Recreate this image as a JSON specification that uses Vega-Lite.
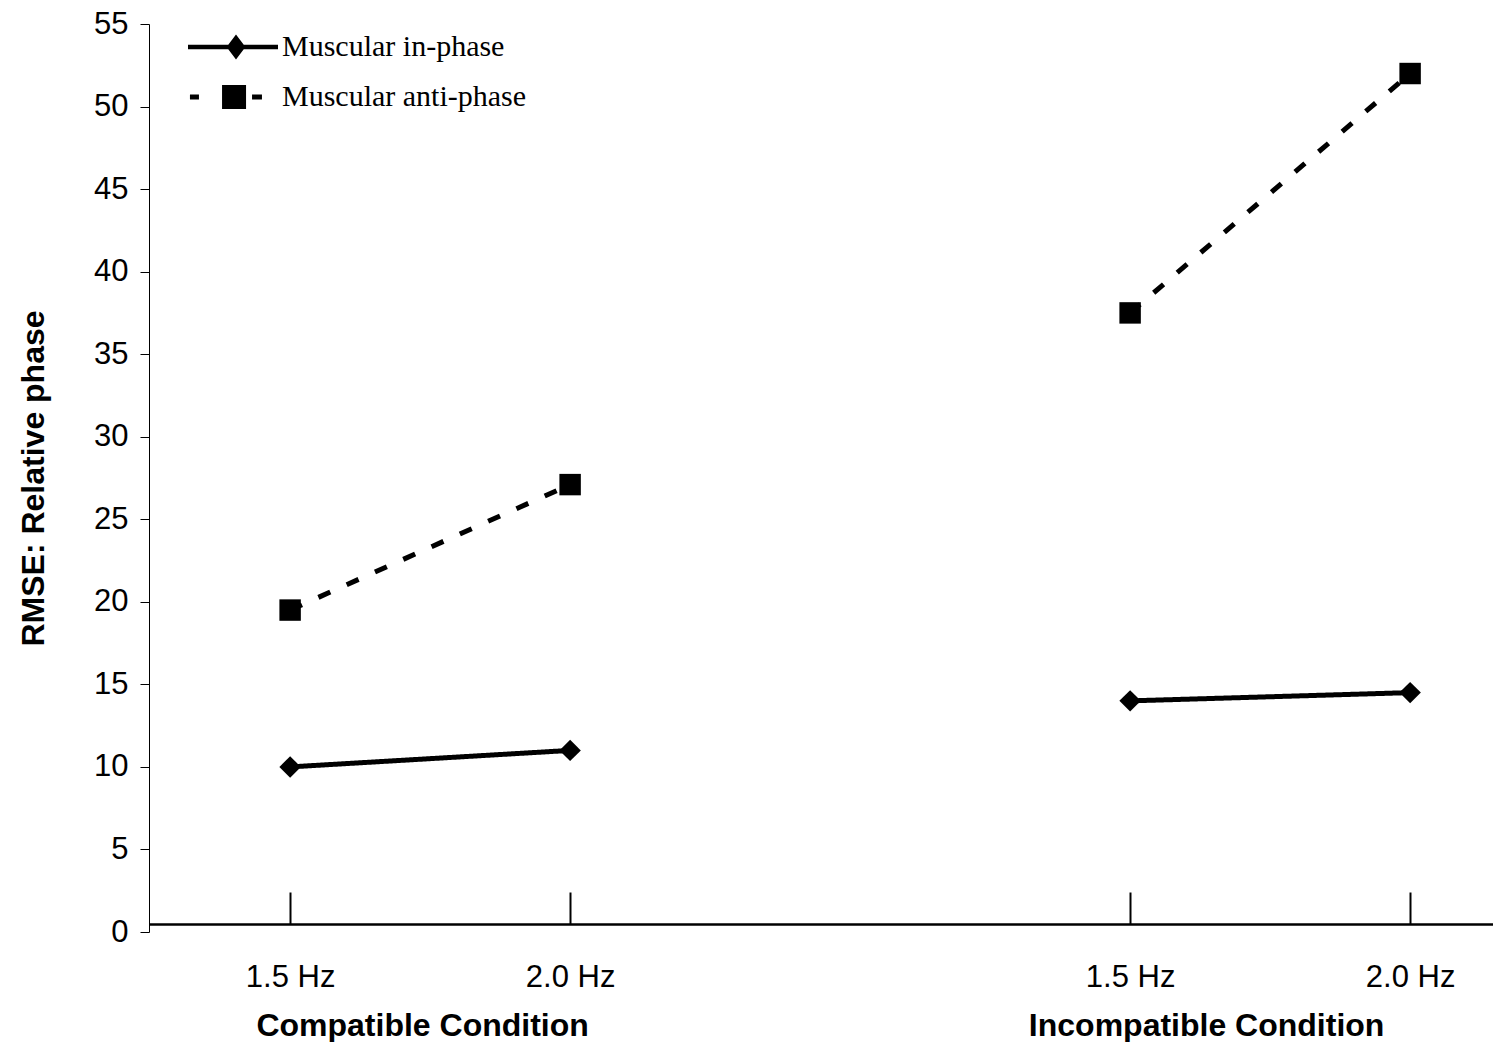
{
  "$schema": "https://vega.github.io/schema/vega-lite/v6.json",
  "width": 1344,
  "height": 908,
  "autosize": "none",
  "padding": {"left": 149, "top": 24, "right": 0, "bottom": 110},
  "background": "white",
  "config": {
    "view": {"stroke": null},
    "axis": {"grid": false, "labelColor": "black", "domainColor": "black", "tickColor": "black", "titleColor": "black", "labelFont": "Liberation Sans", "titleFont": "Liberation Sans"}
  },
  "data": {
    "values": [
      {"group": "Compatible Condition", "frequency": "1.5 Hz", "slot": "Compatible 1.5 Hz", "series": "Muscular in-phase", "rmse": 10.0},
      {"group": "Compatible Condition", "frequency": "2.0 Hz", "slot": "Compatible 2.0 Hz", "series": "Muscular in-phase", "rmse": 11.0},
      {"group": "Incompatible Condition", "frequency": "1.5 Hz", "slot": "Incompatible 1.5 Hz", "series": "Muscular in-phase", "rmse": 14.0},
      {"group": "Incompatible Condition", "frequency": "2.0 Hz", "slot": "Incompatible 2.0 Hz", "series": "Muscular in-phase", "rmse": 14.5},
      {"group": "Compatible Condition", "frequency": "1.5 Hz", "slot": "Compatible 1.5 Hz", "series": "Muscular anti-phase", "rmse": 19.5},
      {"group": "Compatible Condition", "frequency": "2.0 Hz", "slot": "Compatible 2.0 Hz", "series": "Muscular anti-phase", "rmse": 27.1},
      {"group": "Incompatible Condition", "frequency": "1.5 Hz", "slot": "Incompatible 1.5 Hz", "series": "Muscular anti-phase", "rmse": 37.5},
      {"group": "Incompatible Condition", "frequency": "2.0 Hz", "slot": "Incompatible 2.0 Hz", "series": "Muscular anti-phase", "rmse": 52.0}
    ]
  },
  "encoding": {
    "y": {
      "field": "rmse",
      "type": "quantitative",
      "scale": {"domain": [0, 55], "nice": false, "zero": false},
      "axis": {
        "values": [0, 5, 10, 15, 20, 25, 30, 35, 40, 45, 50, 55],
        "title": "RMSE: Relative phase",
        "titleFontSize": 32,
        "titleFontWeight": "bold",
        "titlePadding": 43,
        "labelFontSize": 31,
        "labelPadding": 12,
        "tickSize": 9,
        "tickWidth": 1,
        "domainWidth": 1
      }
    }
  },
  "resolve": {"scale": {"shape": "independent"}, "axis": {"x": "independent"}},
  "layer": [
    {
      "mark": {"type": "line", "color": "black", "strokeWidth": 5},
      "encoding": {
        "x": {
          "field": "slot",
          "type": "ordinal",
          "scale": {"type": "point", "domain": ["Compatible 1.5 Hz", "Compatible 2.0 Hz", " ", "Incompatible 1.5 Hz", "Incompatible 2.0 Hz"], "padding": 0.4, "align": 0.63},
          "axis": {
            "orient": "bottom",
            "values": ["Compatible 1.5 Hz", "Compatible 2.0 Hz", "Incompatible 1.5 Hz", "Incompatible 2.0 Hz"],
            "labelExpr": "substring(datum.label, length(datum.label) - 6)",
            "title": null,
            "offset": -8,
            "domainWidth": 2.5,
            "tickSize": -32,
            "tickWidth": 2,
            "labelFontSize": 31,
            "labelPadding": 70,
            "labelAngle": 0,
            "labelBaseline": "top"
          }
        },
        "detail": {"field": "group"},
        "strokeDash": {
          "field": "series",
          "type": "nominal",
          "scale": {"domain": ["Muscular in-phase", "Muscular anti-phase"], "range": [[1, 0], [13, 18]]},
          "legend": null
        }
      }
    },
    {
      "transform": [{"filter": "datum.series == 'Muscular in-phase'"}],
      "mark": {"type": "point", "shape": "diamond", "filled": true, "color": "black", "opacity": 1, "size": 460},
      "encoding": {
        "x": {"field": "slot", "type": "ordinal", "axis": null}
      }
    },
    {
      "transform": [{"filter": "datum.series == 'Muscular anti-phase'"}],
      "mark": {"type": "point", "shape": "square", "filled": true, "color": "black", "opacity": 1, "size": 460},
      "encoding": {
        "x": {"field": "slot", "type": "ordinal", "axis": null}
      }
    },
    {
      "mark": {"type": "point", "filled": true, "color": "black", "opacity": 0},
      "encoding": {
        "x": {
          "field": "slot",
          "type": "ordinal",
          "axis": {
            "orient": "bottom",
            "values": ["Compatible 1.5 Hz", "Incompatible 1.5 Hz"],
            "labelExpr": "indexof(datum.label, 'Compatible') == 0 ? 'Compatible Condition' : 'Incompatible Condition'",
            "title": null,
            "offset": -8,
            "domain": false,
            "ticks": false,
            "labelFontSize": 32,
            "labelFontWeight": "bold",
            "labelPadding": 86,
            "labelAngle": 0,
            "labelBaseline": "top",
            "labelAlign": "center",
            "labelOverlap": false,
            "labelLimit": 500,
            "labelOffset": {"condition": {"test": "indexof(datum.value, 'Compatible') == 0", "value": 132}, "value": 76}
          }
        },
        "shape": {
          "field": "series",
          "type": "nominal",
          "scale": {
            "domain": ["Muscular in-phase", "Muscular anti-phase"],
            "range": [
              "M-3,-0.15L3,-0.15L3,0.15L-3,0.15ZM0.2,-0.83L0.83,0L0.2,0.83L-0.43,0Z",
              "M-2.87,-0.17L-2.27,-0.17L-2.27,0.17L-2.87,0.17ZM1.27,-0.17L1.93,-0.17L1.93,0.17L1.27,0.17ZM-0.73,-0.8L0.87,-0.8L0.87,0.8L-0.73,0.8Z"
            ]
          },
          "legend": {
            "title": null,
            "orient": "none",
            "legendX": 69,
            "legendY": 8,
            "labelFont": "Liberation Serif",
            "labelFontSize": 30,
            "labelColor": "black",
            "labelOffset": 34,
            "labelLimit": 500,
            "symbolSize": 900,
            "symbolOpacity": 1,
            "symbolFillColor": "black",
            "symbolStrokeWidth": 0,
            "rowPadding": 20
          }
        }
      }
    }
  ]
}
